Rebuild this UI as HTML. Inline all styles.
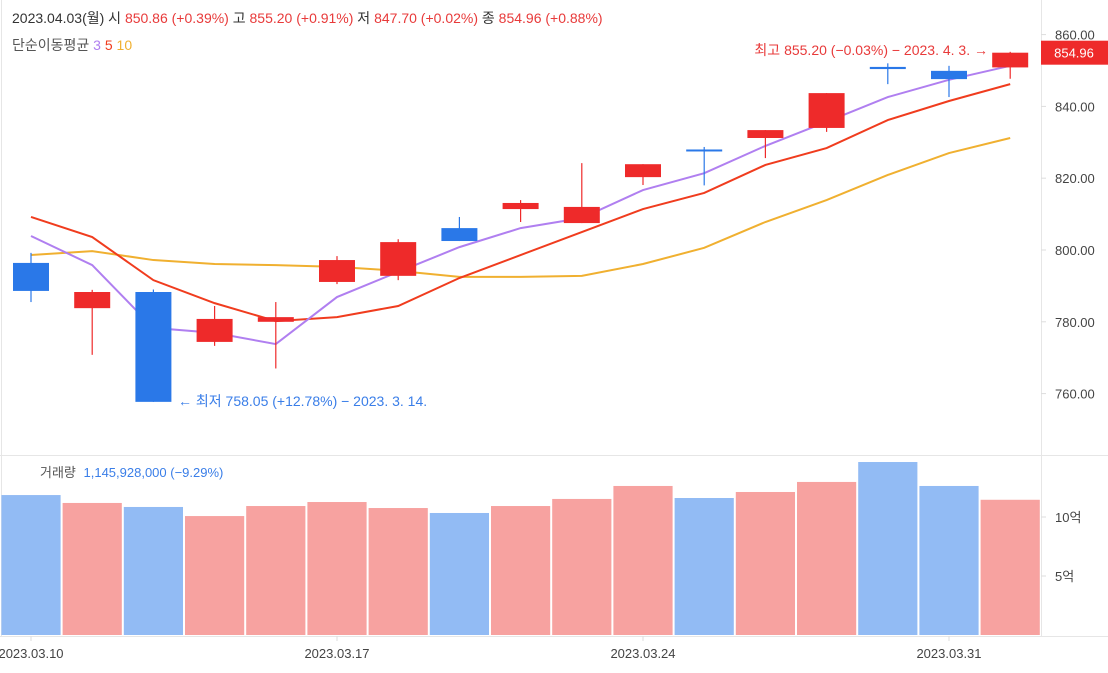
<!DOCTYPE html>
<html><head><meta charset="utf-8"><style>
html,body{margin:0;padding:0;background:#fff;}
body{width:1108px;height:668px;overflow:hidden;position:relative;font-family:"Liberation Sans","Noto Sans CJK KR",sans-serif;}
svg text{font-family:"Liberation Sans","Noto Sans CJK KR",sans-serif;}
</style></head><body>
<svg id="chart" width="1108" height="668" xmlns="http://www.w3.org/2000/svg">
<line x1="1.5" y1="0" x2="1.5" y2="636" stroke="#e6e6e6"/>
<line x1="1041.5" y1="0" x2="1041.5" y2="636" stroke="#e6e6e6"/>
<line x1="0" y1="455.5" x2="1108" y2="455.5" stroke="#e6e6e6"/>
<line x1="0" y1="636.5" x2="1108" y2="636.5" stroke="#e6e6e6"/>
<text x="12" y="23" font-size="14" fill="#333">2023.04.03(월)  시 <tspan fill="#e83a3a">850.86 (+0.39%)</tspan> 고 <tspan fill="#e83a3a">855.20 (+0.91%)</tspan> 저 <tspan fill="#e83a3a">847.70 (+0.02%)</tspan> 종 <tspan fill="#e83a3a">854.96 (+0.88%)</tspan></text>
<text x="12" y="50" font-size="14" fill="#555">단순이동평균 <tspan fill="#b07ff0">3</tspan> <tspan fill="#f03c1e">5</tspan> <tspan fill="#f0b030">10</tspan></text>
<text x="40" y="477" font-size="13" fill="#555">거래량 <tspan fill="#3a7ee8" dx="4">1,145,928,000 (−9.29%)</tspan></text>
<g id="gVol"></g><g id="gMA"></g><g id="gCandle"></g><g id="gAxis"></g>
<text x="178" y="406" font-size="14" fill="#3a7ee8">← 최저 758.05 (+12.78%) − 2023. 3. 14.</text>
<text x="988" y="55" font-size="14" fill="#e83a3a" text-anchor="end">최고 855.20 (−0.03%) − 2023. 4. 3. →</text>
</svg>
<script>
const dates=["2023.03.10","03.13","03.14","03.15","03.16","2023.03.17","03.20","03.21","03.22","03.23","2023.03.24","03.27","03.28","03.29","03.30","2023.03.31","04.03"];
const openV=[796.4,783.8,788.3,774.4,780.0,791.1,792.8,806.1,811.4,807.5,820.3,828.0,831.2,834.0,851.0,849.9,850.86];
const highV=[799.2,788.9,789.0,784.4,785.5,798.3,803.0,809.2,813.9,824.2,823.9,828.7,833.4,843.7,852.0,851.3,855.2];
const lowV=[785.5,770.8,757.7,773.3,767.0,790.5,791.6,802.5,807.8,807.5,818.1,818.0,825.6,832.9,846.2,842.6,847.7];
const closeV=[788.6,788.3,757.7,780.8,781.3,797.2,802.2,802.5,813.1,812.0,823.9,827.6,833.4,843.7,850.4,847.6,854.96];
const ma3=[803.9,795.8,778.3,776.9,773.8,786.9,793.9,800.8,806.1,808.9,816.7,821.4,829.0,835.7,842.6,847.4,851.3];
const ma5=[809.2,803.6,791.6,785.2,780.2,781.3,784.4,792.2,798.6,805.0,811.4,815.9,823.7,828.4,836.2,841.5,846.2];
const ma10=[798.6,799.7,797.2,796.1,795.8,795.3,794.2,792.5,792.5,792.8,796.1,800.6,807.8,813.9,820.9,827.0,831.2];
const volume=[11.86,11.19,10.85,10.08,10.93,11.27,10.76,10.34,10.93,11.53,12.63,11.61,12.12,12.97,14.66,12.63,11.46];
const priceTicks=[760,780,800,820,840,860];
const volTicks=[5,10];
const xTickIdx=[0,5,10,15];
const lastPrice=854.96;

const NS="http://www.w3.org/2000/svg";
const xS=i=>31+i*61.2;
const yP=v=>250-(v-800)*3.59;
const yV=v=>635-v*11.8;
function mk(tag,attrs,parent){const e=document.createElementNS(NS,tag);for(const k in attrs)e.setAttribute(k,attrs[k]);parent.appendChild(e);return e;}
const gVol=document.getElementById('gVol'),gMA=document.getElementById('gMA'),gC=document.getElementById('gCandle'),gA=document.getElementById('gAxis');
volume.forEach((v,i)=>{
  const up=closeV[i]>=openV[i];
  const r=mk('rect',{x:xS(i)-30.6+1,y:yV(v),width:59.2,height:635-yV(v),fill:up?'#f7a2a0':'#92bbf4'},gVol);
  
  
});
[[ma10,'#f0b030','ma10-line'],[ma5,'#f03c1e','ma5-line'],[ma3,'#b07ff0','ma3-line']].forEach(([arr,c,n])=>{
  const p=mk('polyline',{points:arr.map((v,i)=>xS(i)+','+yP(v)).join(' '),fill:'none',stroke:c,'stroke-width':2},gMA);
  
  
});
openV.forEach((o,i)=>{
  const c=closeV[i],up=c>=o,col=up?'#ee2a2a':'#2a78e8';
  const g=mk('g',{},gC);
  
  
  mk('line',{x1:xS(i),x2:xS(i),y1:yP(highV[i]),y2:yP(lowV[i]),stroke:col,'stroke-width':1.2},g);
  const t=yP(Math.max(o,c)),b=yP(Math.min(o,c));
  mk('rect',{x:xS(i)-18,y:t,width:36,height:Math.max(2,b-t),fill:col},g);
});
priceTicks.forEach(v=>{
  mk('line',{x1:1041,x2:1046,y1:yP(v),y2:yP(v),stroke:'#ddd'},gA);
  const t=mk('text',{x:1055,y:yP(v)+5,'font-size':13,fill:'#444'},gA);t.textContent=v.toFixed(2);
  
  
});
volTicks.forEach(v=>{
  mk('line',{x1:1041,x2:1046,y1:yV(v),y2:yV(v),stroke:'#ddd'},gA);
  const t=mk('text',{x:1055,y:yV(v)+5,'font-size':13,fill:'#444'},gA);t.textContent=v+'억';
  
  
});
xTickIdx.forEach(i=>{
  mk('line',{x1:xS(i),x2:xS(i),y1:636,y2:641,stroke:'#ddd'},gA);
  const t=mk('text',{x:xS(i),y:658,'font-size':13,fill:'#444','text-anchor':'middle'},gA);t.textContent=dates[i];
  
  
});
const badge=mk('rect',{x:1041,y:yP(lastPrice)-12,width:67,height:24,fill:'#ee2a2a'},gA);


const bt=mk('text',{x:1074,y:yP(lastPrice)+5,'font-size':13,fill:'#fff','text-anchor':'middle'},gA);bt.textContent=lastPrice.toFixed(2);


</script>
</body></html>
